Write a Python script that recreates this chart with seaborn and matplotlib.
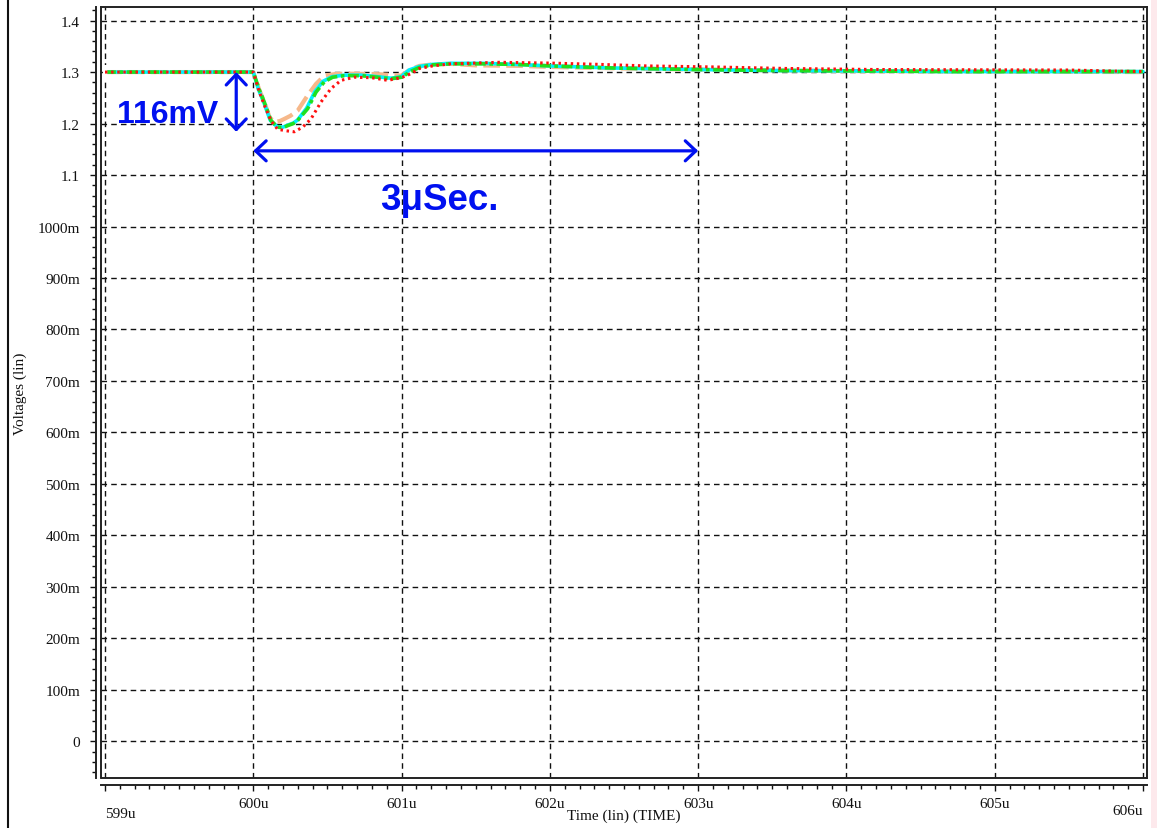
import matplotlib
matplotlib.use("Agg")
import matplotlib.pyplot as plt
from matplotlib.lines import Line2D
from matplotlib.patches import Rectangle
from matplotlib.ticker import MultipleLocator
import seaborn as sns

# ---- waveform samples (time in us, voltage in V) ----
t_orange = [599.0, 600.0, 600.04, 600.074, 600.11, 600.142, 600.18, 600.209, 600.25, 600.299,
            600.367, 600.423, 600.479, 600.55, 600.614, 600.84, 600.997, 601.064, 601.12, 601.21,
            601.33, 601.5, 601.8, 602.0, 602.5, 603.0, 604.0, 605.0, 606.0]
v_orange = [1.300, 1.300, 1.266, 1.242, 1.212, 1.203, 1.205, 1.209, 1.215, 1.225,
            1.255, 1.277, 1.293, 1.296, 1.297, 1.296, 1.293, 1.306, 1.312, 1.315,
            1.316, 1.313, 1.312, 1.310, 1.307, 1.305, 1.302, 1.301, 1.300]

t_red = [599.0, 600.0, 600.04, 600.08, 600.12, 600.164, 600.22, 600.277, 600.333, 600.389,
         600.457, 600.524, 600.592, 600.68, 600.8, 600.906, 600.997, 601.064, 601.12, 601.21,
         601.33, 601.66, 602.0, 602.33, 602.65, 603.1, 603.6, 604.2, 604.8, 605.5, 605.8, 606.0]
v_red = [1.300, 1.300, 1.262, 1.232, 1.205, 1.189, 1.186, 1.184, 1.193, 1.209,
         1.242, 1.268, 1.284, 1.290, 1.289, 1.284, 1.289, 1.297, 1.307, 1.312,
         1.316, 1.319, 1.3175, 1.315, 1.312, 1.310, 1.307, 1.305, 1.3045, 1.304, 1.302, 1.301]

t_cyan = [599.0, 600.0, 600.035, 600.07, 600.115, 600.16, 600.2, 600.232, 600.27, 600.299,
          600.36, 600.415, 600.47, 600.53, 600.614, 600.726, 600.839, 600.929, 600.997, 601.05,
          601.12, 601.21, 601.33, 601.55, 601.77, 602.0, 602.42, 602.98, 603.55, 604.2,
          604.71, 605.4, 606.0]
v_cyan = [1.300, 1.300, 1.266, 1.242, 1.206, 1.194, 1.193, 1.197, 1.201, 1.207,
          1.230, 1.262, 1.282, 1.291, 1.294, 1.294, 1.291, 1.288, 1.291, 1.304,
          1.311, 1.315, 1.317, 1.317, 1.315, 1.312, 1.308, 1.305, 1.303, 1.302,
          1.301, 1.301, 1.301]

t_green = [599.0, 600.0, 600.04, 600.074, 600.119, 600.164, 600.2, 600.232, 600.27, 600.299,
           600.367, 600.423, 600.479, 600.535, 600.614, 600.726, 600.839, 600.929, 601.0, 601.06,
           601.12, 601.21, 601.33, 601.55, 601.77, 602.0, 602.42, 602.98, 603.55, 604.2,
           604.71, 605.4, 606.0]
v_green = [1.300, 1.300, 1.266, 1.242, 1.206, 1.193, 1.192, 1.196, 1.200, 1.206,
           1.229, 1.261, 1.281, 1.290, 1.293, 1.293, 1.290, 1.287, 1.290, 1.301,
           1.309, 1.314, 1.316, 1.316, 1.315, 1.312, 1.308, 1.305, 1.303, 1.302,
           1.301, 1.301, 1.301]

# ---- axis ticks ----
x_ticks = [599, 600, 601, 602, 603, 604, 605, 606]
x_labels = ["599u", "600u", "601u", "602u", "603u", "604u", "605u", "606u"]
y_ticks = [1.4, 1.3, 1.2, 1.1, 1.0, 0.9, 0.8, 0.7, 0.6, 0.5, 0.4, 0.3, 0.2, 0.1, 0.0]
y_labels = ["1.4", "1.3", "1.2", "1.1", "1000m", "900m", "800m", "700m", "600m",
            "500m", "400m", "300m", "200m", "100m", "0"]

# ---- annotation values ----
v_settle = 1.3
droop = 0.116          # V
t_step = 600.0
recovery = 3.0         # us

sns.set_theme(style="white")
plt.rcParams["font.family"] = ["Liberation Serif", "DejaVu Serif"]

W, H = 1157, 829
fig = plt.figure(figsize=(W / 100, H / 100), dpi=100)
fig.patch.set_facecolor("white")
ax = fig.add_axes([101 / W, 1 - 779 / H, (1147 - 101) / W, (779 - 7.7) / H])
ax.set_facecolor("white")

blue = "#0010f0"

sns.lineplot(x=t_orange, y=v_orange, ax=ax, color="#f6b88a", lw=3.0,
             linestyle=(0, (4, 1.5)), estimator=None, sort=False, zorder=3)
sns.lineplot(x=t_cyan, y=v_cyan, ax=ax, color="#00f0ff", lw=2.6,
             estimator=None, sort=False, zorder=4,
             marker="|", markevery=[0], markersize=10, markeredgewidth=3)
sns.lineplot(x=t_green, y=v_green, ax=ax, color="#1ee01e", lw=2.6,
             linestyle=(0, (3, 1, 1, 1)), estimator=None, sort=False, zorder=5,
             marker="|", markevery=[0], markersize=9, markeredgewidth=2.5)
sns.lineplot(x=t_red, y=v_red, ax=ax, color="#ff1010", lw=2.2,
             linestyle=(0, (0.8, 1.2)), estimator=None, sort=False, zorder=6)

ax.set_xlim(598.973, 606.027)
ax.set_ylim(-0.0713, 1.427)

for side in ["left", "right", "top", "bottom"]:
    ax.spines[side].set_color("#222222")
    ax.spines[side].set_linewidth(1.4)
# move the left/bottom axis lines slightly outside the plotting frame
sns.despine(ax=ax, top=False, right=False, offset={"left": 3.6, "bottom": 5})

ax.set_xticks(x_ticks)
ax.set_xticklabels(x_labels)
ax.set_yticks(y_ticks)
ax.set_yticklabels(y_labels)
ax.xaxis.set_minor_locator(MultipleLocator(0.1))
ax.yaxis.set_minor_locator(MultipleLocator(0.02))

ax.grid(True, which="major", color="#111111", linestyle=(0, (4, 3)), linewidth=1.0)
ax.grid(False, which="minor")
ax.set_axisbelow(True)

ax.tick_params(axis="both", which="both", direction="out", bottom=True, left=True,
               top=False, right=False, colors="#111111", labelcolor="#111111",
               labelsize=11)
ax.tick_params(axis="y", which="major", length=4.5, width=1, pad=7.0)
ax.tick_params(axis="y", which="minor", length=3.2, width=1)
ax.tick_params(axis="x", which="major", length=4.0, width=1, pad=5)
ax.tick_params(axis="x", which="minor", length=3.0, width=1)

xt = ax.xaxis.get_major_ticks()
xt[0].label1.set_horizontalalignment("left")
xt[0].set_pad(12)
xt[0].label1.set_horizontalalignment("left")
xt[-1].set_pad(10)
xt[-1].label1.set_horizontalalignment("right")

# inner frame along the plot edges
ax.add_line(Line2D([0, 0], [0, 1], transform=ax.transAxes, color="#222222", lw=1.4, clip_on=False))
ax.add_line(Line2D([0, 1], [0, 0], transform=ax.transAxes, color="#222222", lw=1.4, clip_on=False))

ax.set_xlabel("Time (lin) (TIME)", fontsize=11, color="#111111")
ax.xaxis.set_label_coords(0.5, -0.039)
ax.set_ylabel("Voltages (lin)", fontsize=11, color="#111111")
ax.yaxis.set_label_coords(-0.071, 0.5)

# droop and recovery markers
arrow_kw = dict(arrowstyle="<->,head_length=0.38,head_width=0.36", color=blue, lw=2.3,
                mutation_scale=20, shrinkA=0, shrinkB=0)
ax.annotate("", xy=(599.885, v_settle), xytext=(599.885, v_settle - droop),
            arrowprops=arrow_kw, zorder=7)
ax.annotate("", xy=(t_step, 1.147), xytext=(t_step + recovery, 1.147),
            arrowprops=arrow_kw, zorder=7)
ax.text(599.084, 1.2035, f"{droop * 1000:.0f}mV", color=blue, fontsize=23,
        fontweight="bold", family=["Liberation Sans", "DejaVu Sans"], va="baseline", ha="left")
ax.text(600.852, 1.034, f"{recovery:.0f}\u03bcSec.", color=blue, fontsize=26.5,
        fontweight="bold", family=["Liberation Sans", "DejaVu Sans"], va="baseline", ha="left")

# window border and edge
fig.add_artist(Line2D([8 / W, 8 / W], [0, 1], transform=fig.transFigure, color="#111111", lw=1.5))
edge = Rectangle((1151 / W, 0), 6 / W, 1, transform=fig.transFigure,
                 facecolor="#fde9ec", edgecolor="none")
edge.set_zorder(-5)
fig.add_artist(edge)

fig.savefig("out.png", dpi=100, facecolor="white")
